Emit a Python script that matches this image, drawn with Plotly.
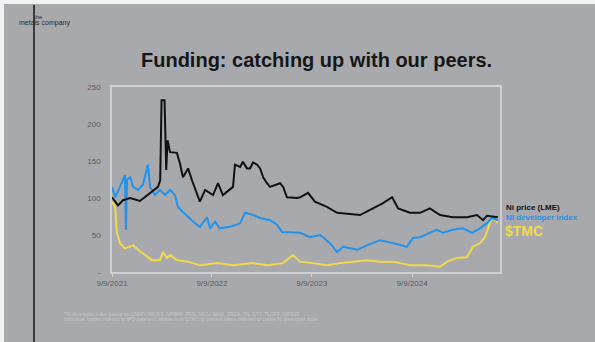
import plotly.graph_objects as go

# ---------------- data ----------------
ni_dates = ["2021-09-09", "2021-10-01", "2021-10-19", "2021-11-14", "2021-12-20", "2022-01-26",
            "2022-02-24", "2022-03-04", "2022-03-09", "2022-03-20", "2022-03-26", "2022-03-31",
            "2022-04-09", "2022-05-04", "2022-05-15", "2022-05-26", "2022-06-14", "2022-06-28",
            "2022-07-16", "2022-07-27", "2022-08-15", "2022-09-13", "2022-10-01", "2022-10-19",
            "2022-11-25", "2022-12-02", "2022-12-21", "2022-12-31", "2023-01-15", "2023-01-26",
            "2023-02-06", "2023-02-21", "2023-03-04", "2023-03-15", "2023-03-29", "2023-04-09",
            "2023-05-16", "2023-05-27", "2023-06-10", "2023-07-17", "2023-07-28",
            "2023-08-26", "2023-09-20", "2023-11-03", "2023-12-10", "2024-01-26", "2024-03-03",
            "2024-04-19", "2024-05-26", "2024-06-28", "2024-07-20", "2024-09-01", "2024-10-08",
            "2024-11-13", "2024-12-20", "2025-02-05", "2025-03-28", "2025-05-04", "2025-05-26",
            "2025-06-09", "2025-07-19"]
ni_price = [101, 90, 97, 100, 96, 107,
            115, 124, 232, 232, 138, 178,
            162, 161, 147, 128, 140, 124,
            107, 95, 111, 104, 120, 104,
            115, 145, 142, 149, 140, 140,
            148, 145, 140, 128, 120, 115,
            120, 115, 101, 100, 101,
            107, 95, 88, 80, 78, 77,
            86, 93, 101, 86, 80, 80,
            86, 77, 74, 74, 77, 70,
            76, 74]

dev_dates = ["2021-09-09", "2021-09-20", "2021-10-08", "2021-10-26", "2021-10-30", "2021-11-03",
             "2021-11-14", "2021-11-25", "2021-12-13", "2021-12-31", "2022-01-18", "2022-01-26",
             "2022-02-13", "2022-03-03", "2022-03-22", "2022-04-09", "2022-04-27", "2022-05-08",
             "2022-05-26", "2022-06-14", "2022-07-09", "2022-07-27", "2022-08-22", "2022-09-02",
             "2022-09-20", "2022-10-08", "2022-11-14", "2022-12-21", "2023-01-08", "2023-02-06",
             "2023-03-04", "2023-04-09", "2023-05-05", "2023-05-23", "2023-06-21", "2023-07-28",
             "2023-09-02", "2023-10-09", "2023-11-14", "2023-12-10", "2024-01-01", "2024-02-21",
             "2024-03-28", "2024-05-15", "2024-07-01", "2024-08-21", "2024-09-12", "2024-10-08",
             "2024-11-13", "2024-12-09", "2024-12-31", "2025-02-05", "2025-03-14", "2025-04-16",
             "2025-05-15", "2025-06-09", "2025-06-28", "2025-07-19"]
dev_index = [115, 101, 115, 131, 57, 125,
             128, 115, 111, 118, 145, 115,
             104, 111, 104, 111, 104, 88,
             81, 74, 66, 61, 74, 59,
             68, 59, 61, 66, 80, 77,
             73, 70, 64, 54, 54, 53,
             47, 50, 39, 27, 34, 30,
             36, 43, 39, 34, 46, 47,
             53, 57, 53, 57, 59, 53,
             59, 66, 73, 70]

tmc_dates = ["2021-09-09", "2021-09-20", "2021-09-27", "2021-10-08", "2021-10-26", "2021-11-14",
             "2021-11-25", "2021-12-13", "2022-01-08", "2022-02-02", "2022-03-03", "2022-03-14",
             "2022-03-29", "2022-04-09", "2022-05-04", "2022-06-14", "2022-07-27", "2022-09-28",
             "2022-11-25", "2023-02-06", "2023-03-29", "2023-05-27", "2023-07-02", "2023-07-20",
             "2023-07-28", "2023-09-13", "2023-11-03", "2023-12-21", "2024-02-06", "2024-03-28",
             "2024-05-15", "2024-07-01", "2024-09-01", "2024-11-02", "2024-12-20", "2025-01-15",
             "2025-02-20", "2025-03-28", "2025-04-19", "2025-05-15", "2025-06-02", "2025-06-20",
             "2025-07-01", "2025-07-19"]
tmc = [95, 88, 53, 39, 32, 34,
       36, 30, 23, 16, 16, 27,
       19, 23, 16, 14, 9, 12,
       9, 12, 9, 12, 23, 16,
       14, 12, 9, 12, 14, 16,
       14, 14, 9, 9, 7, 14,
       19, 20, 34, 39, 47, 66,
       74, 66]

x_tickvals = ["2021-09-09", "2022-09-09", "2023-09-09", "2024-09-09"]
x_ticktext = ["9/9/2021", "9/9/2022", "9/9/2023", "9/9/2024"]
y_tickvals = [0, 50, 100, 150, 200, 250]
y_ticktext = ["-", "50", "100", "150", "200", "250"]

title_text = "Funding: catching up with our peers."
series_names = ["Ni price (LME)", "Ni developer index", "$TMC"]
footnote_1 = "*Ni developer index based on CNWY, NICKX, NRRAF, PFS, NICU, MAS, SRZA, TN, CTY, TLOFF, NRSNF"
footnote_2 = "Individual stocks indexed to IPO date and rebase from $TMC to prevent same indexed to create Ni developer index"

# ---------------- layout geometry ----------------
W, H = 595, 342
ML, MR, MT, MB = 112, 95, 87, 70
PW, PH = W - ML - MR, H - MT - MB

def px(x):
    return (x - ML) / PW

def py(y):
    return (H - MB - y) / PH

BG = "#a8a9ad"
BLACK = "#111111"
BLUE = "#2193ee"
YELLOW = "#f3d84a"

fig = go.Figure()
fig.add_trace(go.Scatter(x=tmc_dates, y=tmc, mode="lines", name=series_names[2],
                         line=dict(color=YELLOW, width=2)))
fig.add_trace(go.Scatter(x=dev_dates, y=dev_index, mode="lines", name=series_names[1],
                         line=dict(color=BLUE, width=2)))
fig.add_trace(go.Scatter(x=ni_dates, y=ni_price, mode="lines", name=series_names[0],
                         line=dict(color=BLACK, width=2)))

fig.update_layout(
    width=W, height=H,
    margin=dict(l=ML, r=MR, t=MT, b=MB, pad=0),
    paper_bgcolor=BG, plot_bgcolor=BG,
    showlegend=False,
    font=dict(family="Liberation Sans, Arial, sans-serif", color="#5e5e60"),
    xaxis=dict(type="date", range=["2021-09-09", "2025-07-27"],
               tickvals=x_tickvals, ticktext=x_ticktext,
               tickfont=dict(size=8, color="#5a5a5c"),
               showgrid=False, zeroline=False,
               showline=True, linecolor="#cfd0d3", linewidth=1.5, mirror=True,
               ticks="outside", ticklen=3, tickcolor="#cfd0d3"),
    yaxis=dict(range=[0, 250], tickvals=y_tickvals, ticktext=y_ticktext,
               tickfont=dict(size=8, color="#5a5a5c"),
               showgrid=False, zeroline=False,
               showline=True, linecolor="#cfd0d3", linewidth=1.5, mirror=True,
               ticks="", ticklabelstandoff=8),
)

shapes = [
    dict(type="rect", xref="paper", yref="paper", x0=px(0), x1=px(W), y0=py(0), y1=py(4),
         fillcolor="#f2f2f2", line=dict(width=0), layer="above"),
    dict(type="rect", xref="paper", yref="paper", x0=px(0), x1=px(4), y0=py(0), y1=py(H),
         fillcolor="#f2f2f2", line=dict(width=0), layer="above"),
    dict(type="line", xref="paper", yref="paper", x0=px(34), x1=px(34), y0=py(5), y1=py(H),
         line=dict(color="#3a3a3c", width=2)),
]
fig.update_layout(shapes=shapes)

ann = [
    dict(text="<b>" + title_text + "</b>", x=px(316), y=py(60), xanchor="center", yanchor="middle",
         font=dict(size=20, color="#161616")),
    dict(text="the", x=px(38), y=py(17), xanchor="center", yanchor="middle",
         font=dict(size=6, color="#2a2a2a")),
    dict(text="metals company", x=px(44), y=py(23), xanchor="center", yanchor="middle",
         font=dict(size=7, color="#2a2a2a")),
    dict(text="<b>" + series_names[0] + "</b>", x=px(504), y=py(207), xanchor="left", yanchor="middle",
         font=dict(size=8, color=BLACK)),
    dict(text="<b>" + series_names[1] + "</b>", x=px(504), y=py(217), xanchor="left", yanchor="middle",
         font=dict(size=8, color=BLUE)),
    dict(text="<b>" + series_names[2] + "</b>", x=px(503), y=py(231), xanchor="left", yanchor="middle",
         font=dict(size=14, color=YELLOW)),
    dict(text=footnote_1, x=px(62), y=py(314), xanchor="left", yanchor="middle",
         font=dict(size=5, color="#c4c5c9")),
    dict(text=footnote_2, x=px(62), y=py(319), xanchor="left", yanchor="middle",
         font=dict(size=5, color="#c4c5c9")),
]
for a in ann:
    a.update(xref="paper", yref="paper", showarrow=False)
fig.update_layout(annotations=ann)

fig.write_html("out.html")
